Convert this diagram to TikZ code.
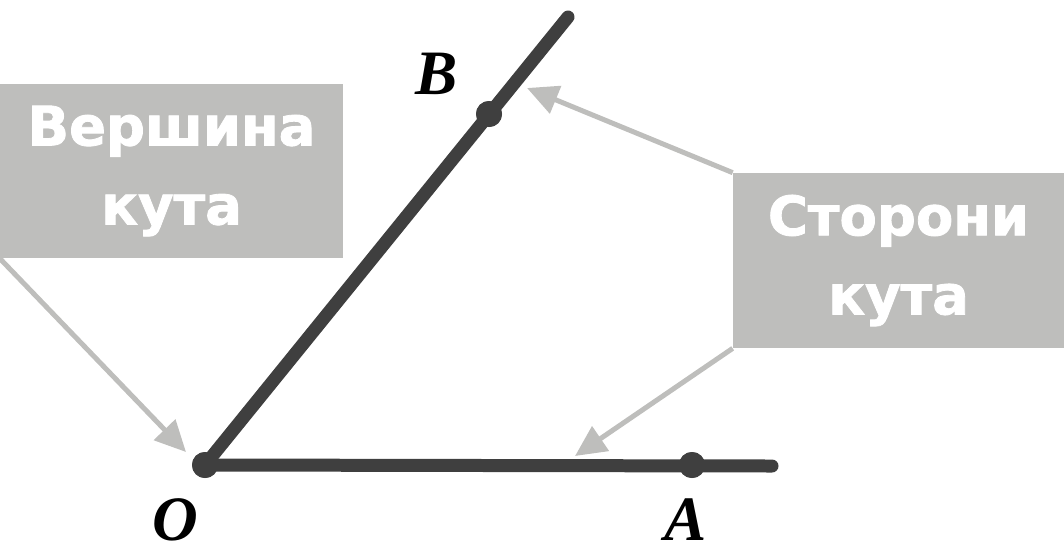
\documentclass[tikz,border=0pt]{standalone}
\usepackage{fontspec}
\setmainfont{DejaVu Sans}[BoldFeatures={FakeBold=1.5}]
\newfontfamily\lblfont{Liberation Serif}
\usetikzlibrary{arrows.meta,positioning}
\definecolor{raycolor}{RGB}{63,63,63}
\definecolor{notecolor}{RGB}{190,190,188}

\begin{document}
\begin{tikzpicture}[x=0.02cm,y=-0.02cm,
  note/.style={rectangle,fill=notecolor,text=white,inner sep=0pt,align=center,
    font=\fontsize{31}{45}\selectfont\bfseries},
  ray/.style={draw=raycolor,line width=0.26cm,line cap=round},
  dot/.style={circle,fill=raycolor,inner sep=0pt,minimum size=0.52cm},
  pointlabel/.style={font=\lblfont\fontsize{36}{36}\selectfont\bfseries\itshape},
  arrow/.style={-{Triangle[length=0.62cm,width=0.58cm]},notecolor,line width=0.1cm}
]
\useasboundingbox (0,0) rectangle (1064,555);

\node[note,minimum width=6.86cm,minimum height=3.48cm] (vbox) at (171.5,171) {Вершина\\кута};
\node[note,minimum width=6.62cm,minimum height=3.5cm] (sbox) at (898.5,260.5) {Сторони\\кута};

\coordinate (vtip) at (186,452);
\coordinate (btip) at (527,88);
\coordinate (atip) at (575,456);
\draw[arrow] (vbox.south west) -- (vtip);
\draw[arrow] (sbox.north west) -- (btip);
\draw[arrow] (sbox.south west) -- (atip);

\coordinate (aend) at (772,466);
\coordinate (bend) at (568,17);
\node[dot] (O) at (205,465) {};
\node[dot] (A) at (692,465) {};
\node[dot] (B) at (489,114) {};
\draw[ray] (O.center) -- (aend);
\draw[ray] (O.center) -- (bend);
\node[dot] at (O) {};
\node[dot] at (A) {};
\node[dot] at (B) {};

\node[pointlabel] (olbl) at (175,520) {O};
\node[pointlabel] (albl) at (686,520) {A};
\node[pointlabel] (blbl) at (437,74) {B};
\end{tikzpicture}
\end{document}
